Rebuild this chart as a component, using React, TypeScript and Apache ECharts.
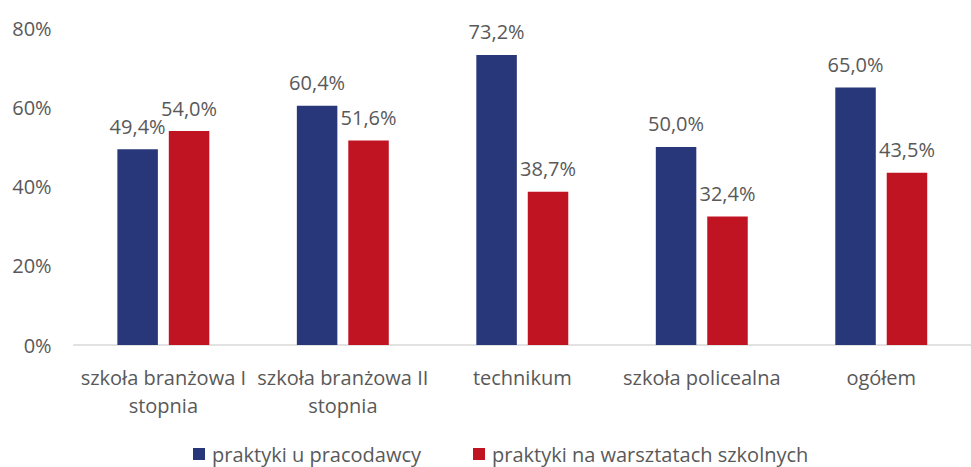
import React, { useEffect, useRef } from "react";
import * as echarts from "echarts";

const categories = [
  "szkoła branżowa I stopnia",
  "szkoła branżowa II stopnia",
  "technikum",
  "szkoła policealna",
  "ogółem",
];
const seriesNames = ["praktyki u pracodawcy", "praktyki na warsztatach szkolnych"];
const employerValues = [49.4, 60.4, 73.2, 50.0, 65.0];
const schoolValues = [54.0, 51.6, 38.7, 32.4, 43.5];
const colors = ["#27377A", "#C11423"];

const FONT = "'Open Sans', sans-serif";
const TEXT = "#595959";
const FS = 20;

export default function App() {
  const ref = useRef<HTMLDivElement>(null);
  useEffect(() => {
    if (!ref.current) return;
    const chart = echarts.init(ref.current, undefined, { renderer: "svg" });
    const fmt = (p: any) => Number(p.value).toFixed(1).replace(".", ",") + "%";
    const label = {
      show: true,
      position: "top",
      distance: 13,
      fontSize: FS,
      color: TEXT,
      formatter: fmt,
    };
    chart.setOption({
      animation: false,
      textStyle: { fontFamily: FONT },
      grid: { left: 73.6, top: 28, width: 904, bottom: 122 },
      legend: {
        bottom: -3,
        left: 188,
        itemWidth: 12,
        itemHeight: 12,
        itemGap: 52,
        icon: "rect",
        textStyle: { fontSize: FS, color: TEXT, fontFamily: FONT, lineHeight: 22, padding: [0, 0, 0, 2] },
        data: seriesNames,
      },
      xAxis: {
        type: "category",
        data: categories,
        axisLine: { lineStyle: { color: "#D9D9D9", width: 1.5 } },
        axisTick: { show: false },
        axisLabel: {
          fontSize: FS,
          color: TEXT,
          lineHeight: 28,
          margin: 18,
          interval: 0,
          formatter: (v: string) => v.replace(" stopnia", "\nstopnia"),
        },
      },
      yAxis: {
        type: "value",
        min: 0,
        max: 80,
        interval: 20,
        splitLine: { show: false },
        axisLine: { show: false },
        axisLabel: {
          fontSize: FS,
          color: TEXT,
          margin: 22,
          formatter: (v: number) => v + "%",
        },
      },
      series: [
        {
          name: seriesNames[0],
          type: "bar",
          data: employerValues,
          barWidth: 40.5,
          barGap: "27%",
          itemStyle: { color: colors[0] },
          label,
        },
        {
          name: seriesNames[1],
          type: "bar",
          data: schoolValues,
          barWidth: 40.5,
          barGap: "27%",
          itemStyle: { color: colors[1] },
          label,
        },
      ],
    });
    return () => chart.dispose();
  }, []);
  return <div ref={ref} style={{ width: 971, height: 467, position: "absolute", left: 0, top: 0 }} />;
}
